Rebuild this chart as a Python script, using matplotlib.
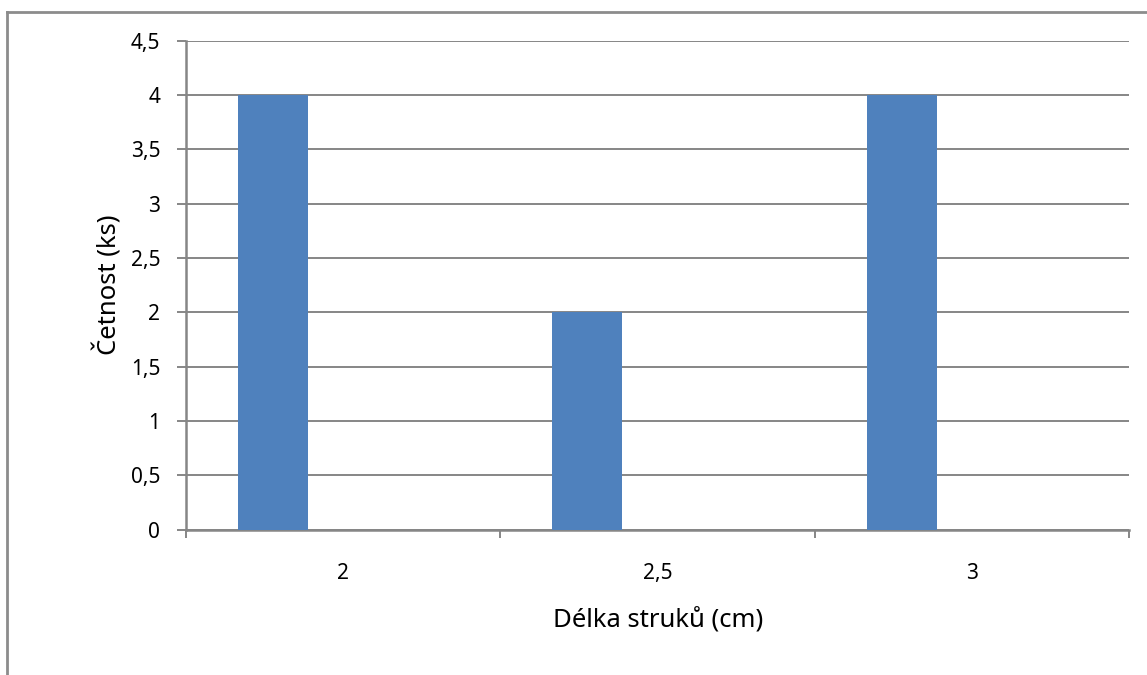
import numpy as np
import matplotlib.pyplot as plt
from matplotlib.lines import Line2D

# data
kategorie = ['2', '2,5', '3']
cetnost = [4, 2, 4]
y_ticks = [0, 0.5, 1, 1.5, 2, 2.5, 3, 3.5, 4, 4.5]
y_labels = ['0', '0,5', '1', '1,5', '2', '2,5', '3', '3,5', '4', '4,5']

plt.rcParams['font.family'] = ['Noto Sans', 'DejaVu Sans']
seda = '#868686'

fig = plt.figure(figsize=(11.47, 6.75), dpi=100)
ax = fig.add_axes([186/1147, 1 - 529.7/675, 943.3/1147, (529.7 - 40.7)/675])

x = np.arange(len(kategorie))
ax.bar(x - 0.224, cetnost, width=0.222, color='#4F81BD', zorder=3)

ax.set_xlim(-0.5, len(kategorie) - 0.5)
ax.set_ylim(0, 4.5)
ax.set_yticks(y_ticks)
ax.set_yticklabels(y_labels)
ax.yaxis.grid(True, color=seda, linewidth=1.4, zorder=0)

# ticks at category boundaries, labels at centres
ax.set_xticks(np.arange(-0.5, len(kategorie)))
ax.set_xticklabels([])
ax.set_xticks(x, minor=True)
ax.set_xticklabels(kategorie, minor=True)
ax.tick_params(axis='x', which='major', length=6, width=1.4, color=seda, direction='out')
ax.tick_params(axis='x', which='minor', length=0, pad=24, labelsize=15)
ax.tick_params(axis='y', length=6.5, width=1.4, color=seda, pad=12, labelsize=15)

for s in ['top', 'right']:
    ax.spines[s].set_visible(False)
for s in ['left', 'bottom']:
    ax.spines[s].set_color(seda)
    ax.spines[s].set_linewidth(1.8)

ax.set_xlabel('Délka struků (cm)', fontsize=18.5, labelpad=17)
ax.set_ylabel('Četnost (ks)', fontsize=18.5, labelpad=6)

# outer frame
fig.add_artist(Line2D([6.5/1147, 6.5/1147], [0, 1 - 12/675], transform=fig.transFigure,
                      color='#8c8c8c', linewidth=2))
fig.add_artist(Line2D([6.5/1147, 1], [1 - 12/675, 1 - 12/675], transform=fig.transFigure,
                      color='#8c8c8c', linewidth=2))

fig.savefig('out.png', dpi=100)
